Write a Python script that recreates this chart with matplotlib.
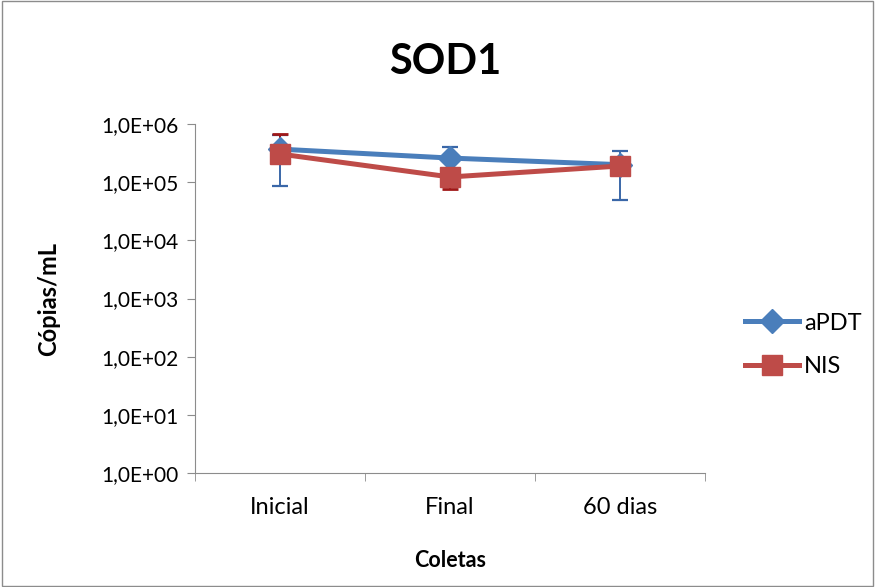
import numpy as np
import matplotlib
import matplotlib.pyplot as plt
from matplotlib.ticker import FixedLocator, FuncFormatter

matplotlib.use('agg')

categories = ['Inicial', 'Final', '60 dias']
apdt = [3.7e5, 2.6e5, 2.0e5]
apdt_err_low = [2.84e5, 1.1e5, 1.5e5]
apdt_err_high = [2.8e5, 1.5e5, 1.4e5]
nis = [3.05e5, 1.23e5, 1.9e5]
nis_err_low = [2.0e4, 4.7e4, 2.0e4]
nis_err_high = [3.6e5, 2.0e4, 2.0e4]
yticks = [1e0, 1e1, 1e2, 1e3, 1e4, 1e5, 1e6]

plt.rcParams['font.family'] = ['Lato', 'DejaVu Sans']

fig = plt.figure(figsize=(8.75, 5.87), dpi=100)
fig.patches.append(plt.Rectangle((0.002, 0.002), 0.996, 0.996, transform=fig.transFigure,
                                 fill=False, edgecolor='#8c8c8c', linewidth=1))
ax = fig.add_axes([0.2229, 0.1942, 0.5829, 0.5945])

x = np.arange(len(categories))
blue = '#4a7ebb'
red = '#be4b48'

# error bars first, then lines with markers on top
ax.errorbar(x, apdt, yerr=[apdt_err_low, apdt_err_high], fmt='none', ecolor='#3a67a8',
            elinewidth=1.4, capsize=6, capthick=1.6, zorder=2)
ax.errorbar(x, nis, yerr=[nis_err_low, nis_err_high], fmt='none', ecolor='#a01818',
            elinewidth=1.4, capsize=6, capthick=2, zorder=2.5)
l1, = ax.plot(x, apdt, color=blue, lw=3.6, marker='D', markersize=12, label='aPDT', zorder=3)
l2, = ax.plot(x, nis, color=red, lw=3.6, marker='s', markersize=14, label='NIS', zorder=4)

ax.set_yscale('log')
ax.set_ylim(1e0, 1e6)
ax.yaxis.set_major_locator(FixedLocator(yticks))
ax.yaxis.set_minor_locator(FixedLocator([]))
ax.yaxis.set_major_formatter(FuncFormatter(lambda v, p: '1,0E+%02d' % round(np.log10(v))))
ax.set_xlim(-0.5, 2.5)
ax.set_xticks(x)
ax.set_xticklabels(categories)
ax.set_xticks([-0.5, 0.5, 1.5, 2.5], minor=True)
ax.tick_params(axis='x', which='major', length=0, pad=17, labelsize=17)
ax.tick_params(axis='x', which='minor', length=6, color='#8c8c8c')
ax.tick_params(axis='y', which='major', length=6, color='#8c8c8c', labelsize=15, pad=6)

for s in ['top', 'right']:
    ax.spines[s].set_visible(False)
for s in ['left', 'bottom']:
    ax.spines[s].set_color('#8c8c8c')

fig.text(0.509, 1 - 62 / 587, 'SOD1', fontsize=30, fontweight='bold', ha='center', va='center')
ax.set_ylabel('Cópias/mL', fontsize=17, fontweight='bold', va='center')
ax.yaxis.set_label_coords(-0.288, 0.5)
ax.set_xlabel('Coletas', fontsize=15.5, fontweight='bold', va='center')
ax.xaxis.set_label_coords(0.5, -0.252)

ax.legend(handles=[l1, l2], loc='center left', bbox_to_anchor=(1.078, 0.367), frameon=False,
          fontsize=17, handlelength=2.3, labelspacing=0.95, handletextpad=0.2, borderpad=0,
          borderaxespad=0)

fig.savefig('out.png', dpi=100)
